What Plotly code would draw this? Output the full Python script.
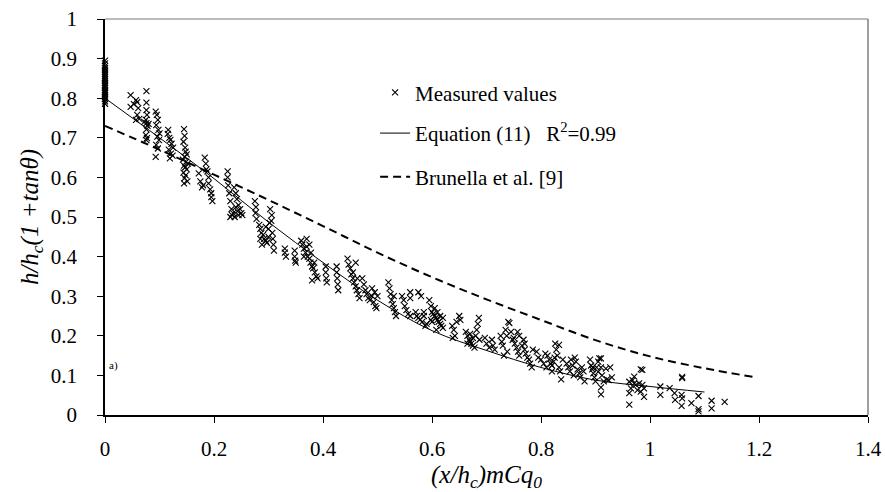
import plotly.graph_objects as go

# ---------------- data ----------------
meas_x = [
    # x = 0 column
    0, 0, 0, 0, 0, 0, 0, 0, 0, 0, 0, 0, 0, 0, 0, 0, 0, 0, 0, 0, 0, 0, 0, 0,
    # ~0.05
    0.047, 0.047, 0.057, 0.059, 0.061, 0.059, 0.057, 0.063, 0.053,
    # ~0.076
    0.076, 0.076, 0.076, 0.077, 0.075, 0.076, 0.078, 0.076, 0.075, 0.077, 0.076, 0.072, 0.080,
    # ~0.095
    0.093, 0.095, 0.097, 0.094, 0.098, 0.100, 0.096, 0.099, 0.094, 0.097, 0.093,
    # ~0.12
    0.115, 0.118, 0.120, 0.122, 0.125, 0.117, 0.121, 0.124, 0.119, 0.116,
    # ~0.145
    0.145, 0.146, 0.144, 0.147, 0.148, 0.150, 0.146, 0.143, 0.149, 0.152, 0.145, 0.147, 0.150, 0.144, 0.148, 0.146, 0.151, 0.145,
    # ~0.185
    0.172, 0.175, 0.178, 0.183, 0.186, 0.188, 0.190, 0.190, 0.193, 0.195, 0.195, 0.197, 0.185, 0.180,
    # ~0.235
    0.225, 0.225, 0.226, 0.228, 0.230, 0.232, 0.235, 0.238, 0.240, 0.243, 0.245, 0.248, 0.250, 0.252, 0.240, 0.242, 0.237, 0.230, 0.233, 0.245,
    # ~0.29
    0.275, 0.277, 0.276, 0.278, 0.283, 0.285, 0.287, 0.290, 0.292, 0.295, 0.297, 0.300, 0.302, 0.305, 0.303, 0.306,
    0.307, 0.308, 0.309, 0.310, 0.288, 0.295, 0.300, 0.285,
    # 0.33 / 0.348
    0.330, 0.330, 0.332, 0.348, 0.348, 0.349, 0.350,
    # ~0.375
    0.360, 0.362, 0.365, 0.368, 0.370, 0.372, 0.375, 0.377, 0.380, 0.382, 0.385, 0.388, 0.390, 0.378, 0.384, 0.370, 0.375, 0.365, 0.380,
    # 0.405 / 0.425
    0.405, 0.405, 0.406, 0.407, 0.425, 0.425, 0.426, 0.427, 0.428,
    # ~0.455
    0.445, 0.447, 0.450, 0.452, 0.455, 0.457, 0.460, 0.462, 0.465, 0.467, 0.455, 0.460, 0.463,
    # ~0.485
    0.472, 0.475, 0.478, 0.480, 0.483, 0.486, 0.490, 0.493, 0.496, 0.498, 0.490, 0.495, 0.500,
    # ~0.53
    0.520, 0.522, 0.524, 0.526, 0.528, 0.530, 0.532, 0.534, 0.530,
    0.545, 0.548, 0.550, 0.553, 0.556, 0.560,
    # ~0.58
    0.570, 0.575, 0.578, 0.582, 0.585, 0.588, 0.590, 0.580, 0.575, 0.572, 0.585, 0.560, 0.560,
    # ~0.61
    0.595, 0.598, 0.600, 0.602, 0.605, 0.607, 0.610, 0.612, 0.615, 0.617, 0.620, 0.600, 0.605, 0.610, 0.615, 0.608, 0.598, 0.620,
    # ~0.645
    0.637, 0.640, 0.642, 0.645, 0.650, 0.652, 0.638,
    # ~0.675
    0.662, 0.665, 0.668, 0.670, 0.672, 0.675, 0.678, 0.680, 0.682, 0.684, 0.686, 0.687, 0.670, 0.675, 0.665,
    # ~0.705
    0.697, 0.700, 0.705, 0.710, 0.712, 0.715,
    # ~0.735
    0.726, 0.728, 0.730, 0.735, 0.737, 0.738, 0.740, 0.732, 0.742, 0.757,
    # ~0.765
    0.745, 0.750, 0.752, 0.755, 0.758, 0.760, 0.765, 0.768, 0.770, 0.772, 0.775, 0.778, 0.780, 0.783, 0.785, 0.760, 0.748, 0.770,
    # ~0.80
    0.792, 0.795, 0.800, 0.805, 0.808, 0.810,
    # ~0.825
    0.812, 0.815, 0.818, 0.820, 0.823, 0.826, 0.828, 0.830, 0.833, 0.835, 0.837, 0.840, 0.820, 0.825, 0.833,
    # ~0.86
    0.847, 0.850, 0.853, 0.855, 0.858, 0.860, 0.864, 0.867, 0.870, 0.872, 0.875, 0.878, 0.880, 0.862,
    # ~0.895
    0.890, 0.892, 0.894, 0.896, 0.898, 0.900, 0.902, 0.905,
    # ~0.915
    0.910, 0.895, 0.910, 0.919, 0.927, 0.912, 0.921, 0.930, 0.915, 0.910, 0.910, 0.924, 0.905, 0.907,
    # ~0.975
    0.962, 0.968, 0.971, 0.965, 0.962, 0.974, 0.977, 0.983, 0.980, 0.986, 0.989, 0.989, 0.962, 0.971, 0.983, 0.986,
    # > 1
    1.019, 1.019, 1.036, 1.045, 1.046, 1.059, 1.058, 1.059, 1.058, 1.076, 1.089, 1.089, 1.089, 1.113, 1.113, 1.137, 1.059,
]

meas_y = [
    # x = 0 column
    0.786, 0.792, 0.798, 0.803, 0.808, 0.812, 0.817, 0.821, 0.826, 0.830, 0.834, 0.839, 0.843, 0.848, 0.852, 0.857,
    0.861, 0.866, 0.871, 0.876, 0.881, 0.888, 0.895, 0.815,
    # ~0.05
    0.808, 0.778, 0.795, 0.790, 0.775, 0.758, 0.745, 0.748, 0.785,
    # ~0.076
    0.818, 0.789, 0.770, 0.758, 0.745, 0.737, 0.730, 0.721, 0.707, 0.699, 0.694, 0.740, 0.735,
    # ~0.095
    0.766, 0.758, 0.745, 0.732, 0.720, 0.711, 0.703, 0.694, 0.682, 0.673, 0.652,
    # ~0.12
    0.710, 0.700, 0.695, 0.685, 0.675, 0.670, 0.660, 0.655, 0.648, 0.720,
    # ~0.145
    0.722, 0.705, 0.690, 0.675, 0.665, 0.658, 0.652, 0.645, 0.640, 0.635, 0.630, 0.625, 0.620, 0.612, 0.605, 0.598, 0.590, 0.585,
    # ~0.185
    0.610, 0.590, 0.575, 0.650, 0.620, 0.615, 0.600, 0.585, 0.570, 0.560, 0.550, 0.540, 0.635, 0.580,
    # ~0.235
    0.615, 0.600, 0.580, 0.560, 0.540, 0.520, 0.510, 0.500, 0.525, 0.515, 0.505, 0.520, 0.510, 0.505, 0.560, 0.545,
    0.575, 0.500, 0.505, 0.530,
    # ~0.29
    0.540, 0.525, 0.510, 0.495, 0.480, 0.470, 0.460, 0.455, 0.445, 0.440, 0.435, 0.470, 0.485, 0.490, 0.520, 0.505,
    0.460, 0.445, 0.430, 0.415, 0.430, 0.475, 0.450, 0.445,
    # 0.33 / 0.348
    0.420, 0.410, 0.400, 0.415, 0.400, 0.390, 0.385,
    # ~0.375
    0.440, 0.430, 0.420, 0.410, 0.445, 0.400, 0.395, 0.385, 0.375, 0.370, 0.360, 0.350, 0.345, 0.410, 0.385, 0.425,
    0.430, 0.400, 0.340,
    # 0.405 / 0.425
    0.375, 0.360, 0.345, 0.335, 0.375, 0.360, 0.345, 0.330, 0.315,
    # ~0.455
    0.395, 0.380, 0.370, 0.355, 0.345, 0.335, 0.325, 0.315, 0.305, 0.295, 0.360, 0.385, 0.345,
    # ~0.485
    0.345, 0.330, 0.315, 0.305, 0.295, 0.290, 0.300, 0.285, 0.275, 0.270, 0.320, 0.310, 0.300,
    # ~0.53
    0.335, 0.320, 0.305, 0.290, 0.280, 0.270, 0.260, 0.250, 0.300,
    0.300, 0.290, 0.275, 0.265, 0.255, 0.250,
    # ~0.58
    0.260, 0.245, 0.240, 0.235, 0.250, 0.225, 0.230, 0.300, 0.310, 0.250, 0.260, 0.295, 0.310,
    # ~0.61
    0.290, 0.275, 0.260, 0.255, 0.250, 0.245, 0.240, 0.235, 0.230, 0.225, 0.220, 0.235, 0.270, 0.260, 0.250, 0.215,
    0.240, 0.245,
    # ~0.645
    0.225, 0.215, 0.200, 0.235, 0.250, 0.240, 0.195,
    # ~0.675
    0.210, 0.200, 0.190, 0.185, 0.180, 0.175, 0.170, 0.200, 0.215, 0.230, 0.245, 0.190, 0.205, 0.195, 0.180,
    # ~0.705
    0.195, 0.180, 0.170, 0.190, 0.175, 0.165,
    # ~0.735
    0.200, 0.185, 0.175, 0.215, 0.200, 0.160, 0.235, 0.150, 0.232, 0.210,
    # ~0.765
    0.210, 0.195, 0.180, 0.170, 0.160, 0.150, 0.175, 0.190, 0.165, 0.155, 0.145, 0.140, 0.130, 0.120, 0.165, 0.200,
    0.190, 0.180,
    # ~0.80
    0.160, 0.145, 0.140, 0.130, 0.155, 0.120,
    # ~0.825
    0.150, 0.140, 0.130, 0.125, 0.135, 0.180, 0.165, 0.150, 0.120, 0.110, 0.090, 0.140, 0.110, 0.145, 0.177,
    # ~0.86
    0.130, 0.120, 0.110, 0.140, 0.125, 0.100, 0.135, 0.115, 0.105, 0.095, 0.120, 0.110, 0.085, 0.145,
    # ~0.895
    0.140, 0.125, 0.115, 0.105, 0.095, 0.085, 0.120, 0.135,
    # ~0.915
    0.143, 0.120, 0.120, 0.117, 0.120, 0.100, 0.090, 0.095, 0.085, 0.070, 0.052, 0.088, 0.109, 0.143,
    # ~0.975
    0.084, 0.088, 0.080, 0.067, 0.055, 0.076, 0.063, 0.115, 0.080, 0.076, 0.067, 0.046, 0.026, 0.097, 0.059, 0.114,
    # > 1
    0.072, 0.051, 0.068, 0.055, 0.038, 0.093, 0.051, 0.042, 0.023, 0.030, 0.048, 0.015, 0.009, 0.036, 0.017, 0.033, 0.096,
]

eq11_x = [0, 0.1, 0.2, 0.3, 0.4, 0.5, 0.6, 0.7, 0.8, 0.9, 1.0, 1.1]
eq11_y = [0.800, 0.700, 0.597, 0.487, 0.385, 0.290, 0.213, 0.163, 0.120, 0.088, 0.072, 0.058]

brun_x = [0, 0.1, 0.2, 0.3, 0.4, 0.5, 0.6, 0.7, 0.8, 0.9, 1.0, 1.1, 1.19]
brun_y = [0.730, 0.670, 0.607, 0.543, 0.477, 0.410, 0.348, 0.292, 0.240, 0.189, 0.148, 0.118, 0.096]

x_ticks = [0, 0.2, 0.4, 0.6, 0.8, 1.0, 1.2, 1.4]
x_tick_labels = ["0", "0.2", "0.4", "0.6", "0.8", "1", "1.2", "1.4"]
y_ticks = [0, 0.1, 0.2, 0.3, 0.4, 0.5, 0.6, 0.7, 0.8, 0.9, 1.0]
y_tick_labels = ["0", "0.1", "0.2", "0.3", "0.4", "0.5", "0.6", "0.7", "0.8", "0.9", "1"]

FONT = "Liberation Serif"

fig = go.Figure()
fig.add_trace(go.Scatter(
    x=meas_x, y=meas_y, mode="markers", name="Measured values",
    marker=dict(symbol="x-thin", size=6, color="black", line=dict(color="black", width=1.1)),
    cliponaxis=False, legend="legend", showlegend=True,
))
fig.add_trace(go.Scatter(
    x=eq11_x, y=eq11_y, mode="lines", name="Equation (11)   R<sup>2</sup>=0.99",
    line=dict(color="black", width=1, shape="spline"), legend="legend2", showlegend=True,
))
fig.add_trace(go.Scatter(
    x=brun_x, y=brun_y, mode="lines", name="Brunella et al. [9]",
    line=dict(color="black", width=2, dash="8px,5px", shape="spline"), legend="legend3", showlegend=True,
))

leg_common = dict(font=dict(family=FONT, size=21, color="black"), bgcolor="rgba(0,0,0,0)",
                  xanchor="left", yanchor="middle", itemwidth=30)

fig.update_layout(
    width=885, height=492,
    showlegend=True,
    margin=dict(l=105, r=17, t=19, b=77, autoexpand=False),
    paper_bgcolor="white", plot_bgcolor="white",
    font=dict(family=FONT, size=20, color="black"),
    legend=dict(x=0.354, y=0.814, **leg_common),
    legend2=dict(x=0.354, y=0.711, **leg_common),
    legend3=dict(x=0.354, y=0.601, **leg_common),
    xaxis=dict(
        range=[0, 1.4], tickvals=x_ticks, ticktext=x_tick_labels,
        showgrid=False, zeroline=False, showline=True, linecolor="black", linewidth=1.5,
        ticks="outside", ticklen=6, tickcolor="black", tickwidth=1,
        ticklabelstandoff=8, automargin=False,
        tickfont=dict(family=FONT, size=21, color="black"),
        title=dict(text="<i>(x/h<sub>c</sub>)mCq<sub>0</sub></i>", font=dict(family=FONT, size=25, color="black"), standoff=10),
    ),
    yaxis=dict(
        range=[0, 1], tickvals=y_ticks, ticktext=y_tick_labels,
        showgrid=False, zeroline=False, showline=True, linecolor="black", linewidth=1.5,
        ticks="outside", ticklen=6, tickcolor="black", tickwidth=1,
        ticklabelstandoff=16, automargin=False,
        tickfont=dict(family=FONT, size=21, color="black"),
        title=dict(text="<i>h/h<sub>c</sub>(1 +tanθ)</i>", font=dict(family=FONT, size=25, color="black"), standoff=5),
    ),
    shapes=[
        dict(type="line", xref="paper", yref="paper", x0=0, x1=1, y0=1, y1=1,
             line=dict(color="#a6a6a6", width=1.5)),
        dict(type="line", xref="paper", yref="paper", x0=1, x1=1, y0=0, y1=1,
             line=dict(color="#404040", width=1)),
    ],
    annotations=[
        dict(text="a)", x=0.003, y=0.126, xref="x", yref="y", xanchor="left", yanchor="middle",
             showarrow=False, font=dict(family=FONT, size=11, color="black")),
    ],
)

fig.write_html("out.html")
